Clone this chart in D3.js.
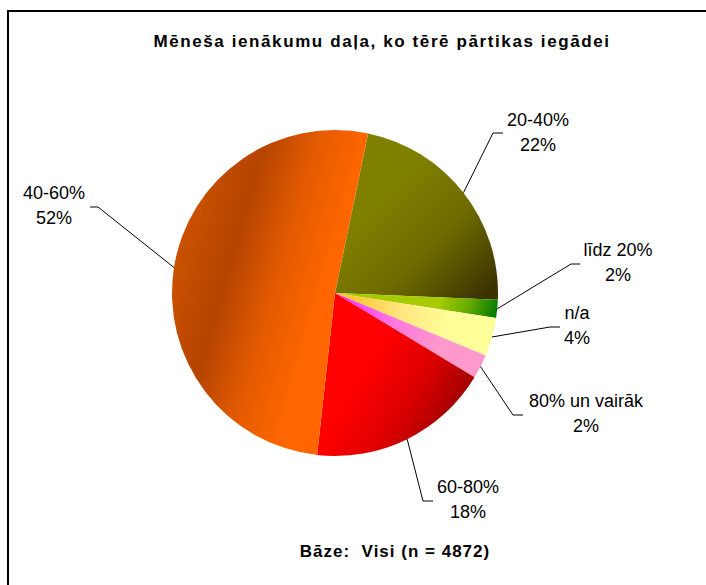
<!DOCTYPE html>
<html>
<head>
<meta charset="utf-8">
<script src="https://cdn.jsdelivr.net/npm/d3@7"></script>
<style>
  body { margin: 0; background: #fff; }
  svg  { display: block; font-family: "Liberation Sans", Arial, sans-serif; }
  .title        { font-weight: bold; font-size: 17px; letter-spacing: 1.6px; }
  .base         { font-weight: bold; font-size: 17px; letter-spacing: 1px; }
  .sliceLabel   { font-size: 18px; }
  .leader       { fill: none; stroke: #000; stroke-width: 1; }
</style>
</head>
<body>
<div id="chart"></div>
<script>
// Data (clockwise from the top)
var categories = ["20-40%", "līdz 20%", "n/a", "80% un vairāk", "60-80%", "40-60%"]
var shares     = [22.4, 1.8, 3.8, 2.4, 18.1, 51.5] // % of respondents
var titleText  = "Mēneša ienākumu daļa, ko tērē pārtikas iegādei"
var baseText   = "Bāze:  Visi (n = 4872)"

// Look of each slice: gradient stops and direction (page coords)
var fills = [
  { x1: 390, y1: 190, x2: 490, y2: 290, stops: ["#808000", "#6e6a00", "#3b3300"] },
  { x1: 440, y1: 298, x2: 496, y2: 316, stops: ["#a6cc00", "#66aa00", "#007a00"] },
  { x1: 350, y1: 310, x2: 450, y2: 330, stops: ["#ffc833", "#ffe680", "#ffff99"] },
  { x1: 345, y1: 300, x2: 440, y2: 350, stops: ["#ff33ff", "#ff77dd", "#ff99cc"] },
  { x1: 370, y1: 360, x2: 462, y2: 415, stops: ["#ff0000", "#dd0000", "#990000"] },
  { x1: 180, y1: 260, x2: 320, y2: 300, stops: ["#c85000", "#b54400", "#e25a00", "#ff6600"] }
]

// Label layout: text centre, first baseline, leader elbow and end
var labelPos = [
  { x: 538, y: 126, elbow: [493, 133], end: [503, 133] },
  { x: 618, y: 256, elbow: [571, 264], end: [580, 264] },
  { x: 577, y: 319, elbow: [550, 327], end: [560, 327] },
  { x: 586, y: 407, elbow: [513, 415], end: [523, 415] },
  { x: 468, y: 493, elbow: [423, 501], end: [433, 501] },
  { x: 54,  y: 199, elbow: [98, 207],  end: [90, 207] }
]

var width  = 706,
    height = 585,
    cx     = 335,
    cy     = 293,
    radius = 163,
    startA = 11.7 * Math.PI / 180

var svg = d3.select("#chart").append("svg")
            .attr("width", width)
            .attr("height", height)

// Chart frame (right and bottom edges run off the picture)
svg.append("rect")
   .attr("x", 8)
   .attr("y", 11)
   .attr("width", 760)
   .attr("height", 640)
   .attr("fill", "#fff")
   .attr("stroke", "#000")
   .attr("stroke-width", 2)

// Gradients
var defs = svg.append("defs")
fills.forEach(function (f, i) {
  var g = defs.append("linearGradient")
              .attr("id", "grad" + i)
              .attr("gradientUnits", "userSpaceOnUse")
              .attr("x1", f.x1).attr("y1", f.y1)
              .attr("x2", f.x2).attr("y2", f.y2)
  f.stops.forEach(function (c, j) {
    g.append("stop")
     .attr("offset", j / (f.stops.length - 1))
     .attr("stop-color", c)
  })
})

// Pie layout, keep the picture's order
var pie = d3.pie()
            .sort(null)
            .startAngle(startA)
            .endAngle(startA + 2 * Math.PI)
            .value(function (d) { return d })

var arc = d3.arc().innerRadius(0).outerRadius(radius)

var arcs = pie(shares)

// Slices drawn in a group moved to the centre; gradients use page coords,
// so shift them back with a gradientTransform
defs.selectAll("linearGradient")
    .attr("gradientTransform", "translate(" + (-cx) + "," + (-cy) + ")")

svg.append("g")
   .attr("transform", "translate(" + cx + "," + cy + ")")
   .selectAll("path")
   .data(arcs)
   .enter()
     .append("path")
       .attr("d", arc)
       .attr("fill", function (d, i) { return "url(#grad" + i + ")" })

// Leader lines, starting on the rim at each slice's middle angle
svg.append("g")
   .selectAll("polyline")
   .data(arcs)
   .enter()
     .append("polyline")
       .attr("class", "leader")
       .attr("points", function (d, i) {
         var mid = (d.startAngle + d.endAngle) / 2,
             sx  = cx + radius * Math.sin(mid),
             sy  = cy - radius * Math.cos(mid),
             lp  = labelPos[i]
         return [[sx, sy], lp.elbow, lp.end].join(" ")
       })

// Labels: category and rounded share
var labels = svg.append("g")
                .selectAll("text")
                .data(arcs)
                .enter()
                  .append("text")
                    .attr("class", "sliceLabel")
                    .attr("text-anchor", "middle")
labels.append("tspan")
      .attr("x", function (d, i) { return labelPos[i].x })
      .attr("y", function (d, i) { return labelPos[i].y })
      .text(function (d, i) { return categories[i] })
labels.append("tspan")
      .attr("x", function (d, i) { return labelPos[i].x })
      .attr("y", function (d, i) { return labelPos[i].y + 24.5 })
      .text(function (d) { return Math.round(d.value) + "%" })

// Title and base note
svg.append("text")
   .attr("class", "title")
   .attr("x", 382)
   .attr("y", 47)
   .attr("text-anchor", "middle")
   .text(titleText)

svg.append("text")
   .attr("class", "base")
   .attr("x", 395)
   .attr("y", 557)
   .attr("text-anchor", "middle")
   .attr("xml:space", "preserve")
   .text(baseText)
</script>
</body>
</html>
